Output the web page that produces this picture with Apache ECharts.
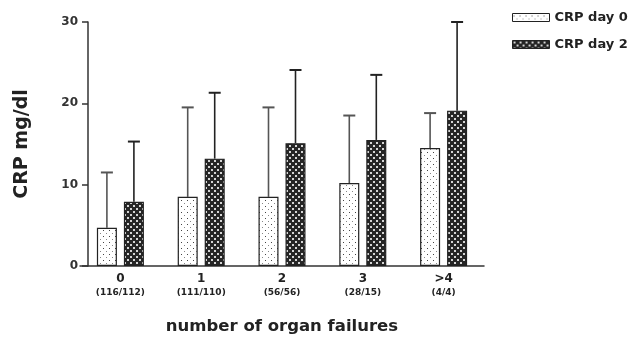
<!DOCTYPE html>
<html>
<head>
<meta charset="utf-8">
<script src="https://cdn.jsdelivr.net/npm/echarts@6/dist/echarts.min.js"></script>
<style>html,body{margin:0;padding:0;background:#fff}#c{width:639px;height:341px}</style>
</head>
<body>
<div id="c"></div>
<script>
var categories = ['0', '1', '2', '3', '>4'];
var counts = ['(116/112)', '(111/110)', '(56/56)', '(28/15)', '(4/4)'];
var day0Mean = [4.7, 8.5, 8.5, 10.2, 14.5];
var day0Upper = [11.5, 19.5, 19.5, 18.5, 18.8];
var day2Mean = [7.9, 13.2, 15.1, 15.5, 19.1];
var day2Upper = [15.3, 21.3, 24.1, 23.5, 30.0];
var yTicks = [0, 10, 20, 30];

function makePattern(kind) {
  var c = document.createElement('canvas');
  var ctx = c.getContext('2d');
  if (kind === 'dots') {
    c.width = 6; c.height = 6;
    ctx.fillStyle = '#ffffff'; ctx.fillRect(0, 0, 6, 6);
    ctx.fillStyle = '#444444';
    ctx.fillRect(1, 2, 1, 1);
    ctx.fillStyle = '#888888';
    ctx.fillRect(4, 5, 1, 1);
  } else {
    c.width = 6; c.height = 6;
    ctx.fillStyle = '#262626'; ctx.fillRect(0, 0, 6, 6);
    ctx.fillStyle = '#d6d6d6';
    ctx.fillRect(1, 1, 2, 2);
    ctx.fillRect(4, 4, 2, 2);
  }
  return { image: c, repeat: 'repeat' };
}

var pDots = makePattern('dots');
var pDark = makePattern('dark');

function errorSeries(upper, mean, idx, color) {
  return {
    type: 'custom',
    name: 'err' + idx,
    data: upper.map(function (u, i) { return [i, mean[i], u]; }),
    z: 1,
    renderItem: function (params, api) {
      var ci = api.value(0);
      var base = api.coord([ci, api.value(1)]);
      var top = api.coord([ci, api.value(2)]);
      var bw = 20, gap = 7;
      var off = (idx === 0 ? -1 : 1) * (bw + gap) / 2;
      var x = base[0] + off;
      var cap = 6;
      return {
        type: 'group',
        children: [
          { type: 'line', shape: { x1: x, y1: base[1], x2: x, y2: top[1] }, style: { stroke: color, lineWidth: 1.6 } },
          { type: 'line', shape: { x1: x - cap, y1: top[1], x2: x + cap, y2: top[1] }, style: { stroke: color, lineWidth: 2 } }
        ]
      };
    }
  };
}

var FONT = 'DejaVu Sans, Liberation Sans, Arial, sans-serif';
var chart = echarts.init(document.getElementById('c'), null, { renderer: 'canvas' });
chart.setOption({
  animation: false,
  textStyle: { fontFamily: FONT },
  grid: { left: 80, right: 155, top: 22, bottom: 75 },
  legend: {
    orient: 'vertical',
    left: 507, top: 6,
    itemWidth: 37, itemHeight: 8, itemGap: 14,
    icon: 'rect',
    data: [
      { name: 'CRP day 0', itemStyle: { color: pDots, borderColor: '#222', borderWidth: 1 } },
      { name: 'CRP day 2', itemStyle: { color: pDark, borderColor: '#222', borderWidth: 1 } }
    ],
    textStyle: { fontFamily: FONT, fontSize: 13, fontWeight: 'bold', color: '#222' }
  },
  xAxis: {
    type: 'category',
    data: categories.map(function (c, i) { return c + '\n' + counts[i]; }),
    axisLine: { lineStyle: { color: '#333', width: 1.5 } },
    axisTick: { show: false },
    axisLabel: {
      interval: 0,
      margin: 5,
      formatter: function (v) {
        var p = v.split('\n');
        return '{a|' + p[0] + '}\n{b|' + p[1] + '}';
      },
      rich: {
        a: { fontFamily: FONT, fontSize: 12, fontWeight: 'bold', color: '#222', lineHeight: 15 },
        b: { fontFamily: FONT, fontSize: 9, fontWeight: 'bold', color: '#222', lineHeight: 13 }
      }
    },
    name: 'number of organ failures',
    nameLocation: 'middle',
    nameGap: 52,
    nameTextStyle: { fontFamily: FONT, fontSize: 16.5, fontWeight: 'bold', color: '#222' }
  },
  yAxis: {
    type: 'value',
    min: 0, max: 30, interval: 10,
    offset: -8,
    axisLine: { show: true, lineStyle: { color: '#333', width: 1.5 } },
    axisTick: { show: true, length: 6, lineStyle: { color: '#333', width: 1.5 } },
    splitLine: { show: false },
    axisLabel: {
      fontFamily: FONT, fontSize: 12, fontWeight: 'bold', color: '#333', margin: 10,
      formatter: function (v) { return yTicks.indexOf(v) >= 0 ? String(v) : ''; }
    },
    name: 'CRP mg/dl',
    nameLocation: 'middle',
    nameGap: 56,
    nameTextStyle: { fontFamily: FONT, fontSize: 19, fontWeight: 'bold', color: '#222' }
  },
  series: [
    {
      name: 'CRP day 0', type: 'bar', data: day0Mean, barWidth: 20, barGap: '35%', z: 2,
      itemStyle: { color: pDots, borderColor: '#222', borderWidth: 1.2 }
    },
    {
      name: 'CRP day 2', type: 'bar', data: day2Mean, barWidth: 20, barGap: '35%', z: 2,
      itemStyle: { color: pDark, borderColor: '#222', borderWidth: 1.2 }
    },
    errorSeries(day0Upper, day0Mean, 0, '#555'),
    errorSeries(day2Upper, day2Mean, 1, '#222')
  ]
});
</script>
</body>
</html>
